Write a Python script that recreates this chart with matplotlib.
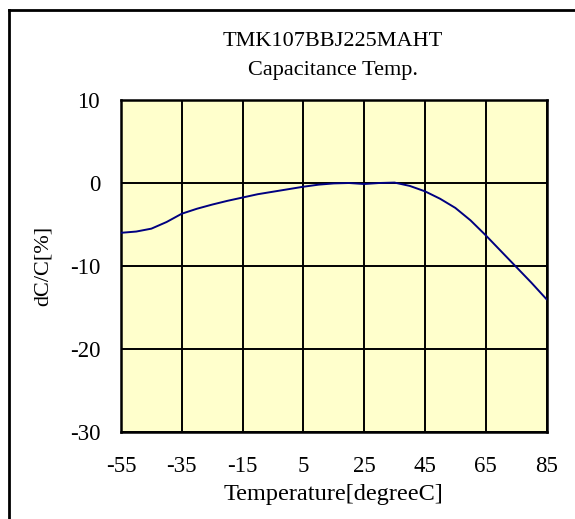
import matplotlib
matplotlib.use("Agg")
import matplotlib.pyplot as plt
from matplotlib.lines import Line2D

temps = [-55, -50, -45, -40, -35, -30, -25, -20, -15, -10, -5, 0, 5, 10, 15,
         20, 25, 30, 35, 40, 45, 50, 55, 60, 65, 70, 75, 80, 85]
dcc = [-6.0, -5.85, -5.5, -4.7, -3.7, -3.1, -2.6, -2.15, -1.75, -1.35, -1.05,
       -0.75, -0.45, -0.2, -0.05, 0.0, -0.12, 0.0, 0.05, -0.35, -1.0, -1.9,
       -3.0, -4.5, -6.3, -8.2, -10.1, -12.0, -14.0]
xticks = [-55, -35, -15, 5, 25, 45, 65, 85]
yticks = [-30, -20, -10, 0, 10]
title_lines = ["TMK107BBJ225MAHT", "Capacitance Temp."]

plt.rcParams['font.family'] = ['Liberation Serif', 'DejaVu Serif']

W, H = 575, 519
fig = plt.figure(figsize=(W / 100, H / 100), dpi=100)
ax = fig.add_axes([121 / W, 1 - 432 / H, (546.5 - 121) / W, (432 - 100) / H])
ax.set_facecolor('#FFFFCC')
ax.plot(temps, dcc, color='#000080', lw=1.4, zorder=3)
ax.set_xlim(-55, 85)
ax.set_ylim(-30, 10)
ax.set_xticks(xticks)
ax.set_yticks(yticks)
ax.set_xticklabels([str(t) for t in xticks], fontsize=16.5)
ax.set_yticklabels([str(t) for t in yticks], fontsize=16.5)
ax.tick_params(axis='x', length=0, pad=17)
ax.tick_params(axis='y', length=0, pad=15)
ax.grid(True, color='black', lw=1.4, zorder=1)
ax.set_axisbelow(True)
for s in ax.spines.values():
    s.set_linewidth(1.8)
    s.set_color('black')
ax.set_xlabel('Temperature[degreeC]', fontsize=17.5, labelpad=5)
ax.set_ylabel('dC/C[%]', fontsize=16, labelpad=12)

fig.text(333 / W, 1 - 41 / H, title_lines[0], ha='center', va='center', fontsize=16)
fig.text(333 / W, 1 - 71 / H, title_lines[1], ha='center', va='center', fontsize=16)

# outer frame (only left and top visible)
fig.add_artist(Line2D([9 / W, 9 / W], [0, 1 - 10 / H], transform=fig.transFigure, color='black', lw=2))
fig.add_artist(Line2D([9 / W, 1], [1 - 10 / H, 1 - 10 / H], transform=fig.transFigure, color='black', lw=2))

fig.savefig('out.png', dpi=100)
